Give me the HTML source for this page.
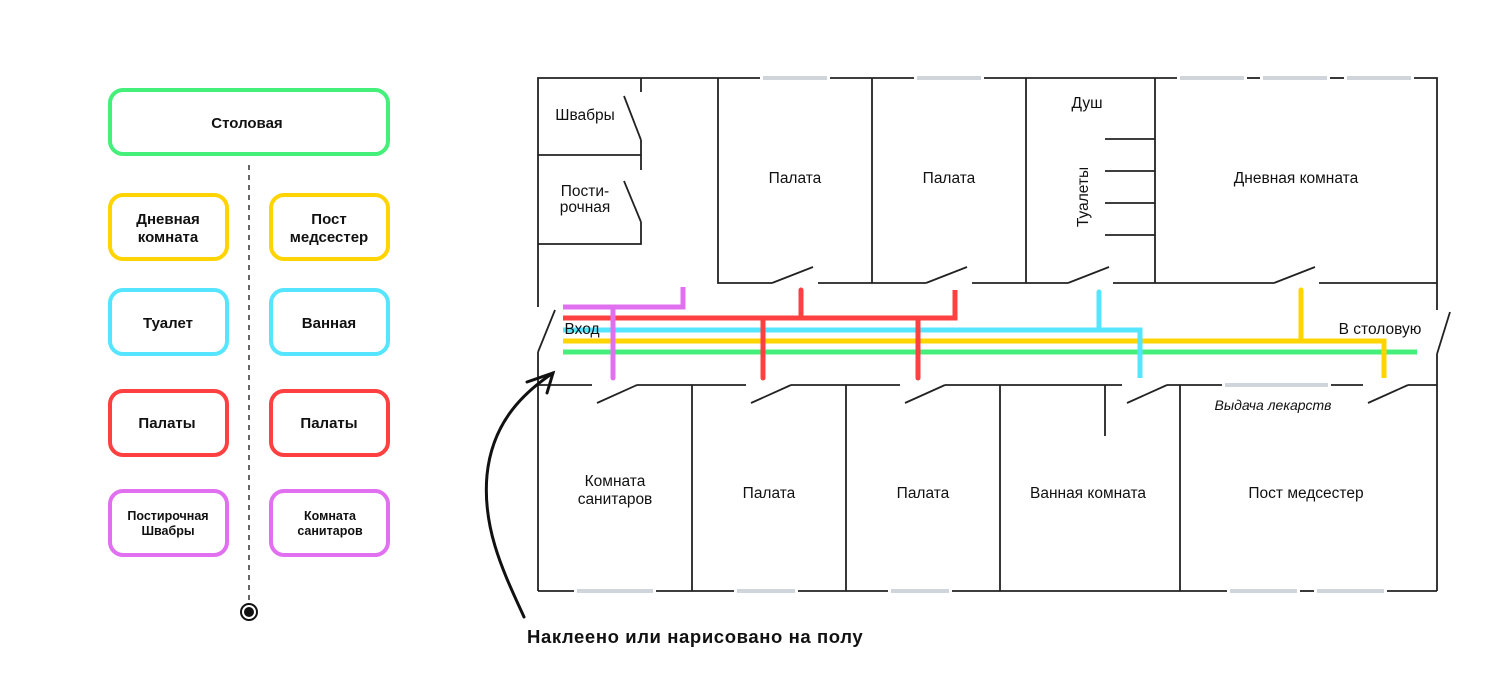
<!DOCTYPE html>
<html><head><meta charset="utf-8"><style>
html,body{margin:0;padding:0;background:#fff;}
svg{display:block;}
.lg{font-family:"Liberation Sans",sans-serif;font-weight:bold;font-size:15px;fill:#111;text-anchor:middle;}
.pl{font-family:"Liberation Sans",sans-serif;font-size:15.5px;fill:#111;text-anchor:middle;}
</style></head><body>
<svg width="1500" height="677" viewBox="0 0 1500 677" xmlns="http://www.w3.org/2000/svg">
<!-- Legend -->
<g fill="none" stroke-width="4">
<rect x="110" y="90" width="278" height="64" rx="13" stroke="#44f07a"/>
<rect x="110" y="195" width="117" height="64" rx="13" stroke="#ffd400"/>
<rect x="271" y="195" width="117" height="64" rx="13" stroke="#ffd400"/>
<rect x="110" y="290" width="117" height="64" rx="13" stroke="#55e5ff"/>
<rect x="271" y="290" width="117" height="64" rx="13" stroke="#55e5ff"/>
<rect x="110" y="391" width="117" height="64" rx="13" stroke="#ff4040"/>
<rect x="271" y="391" width="117" height="64" rx="13" stroke="#ff4040"/>
<rect x="110" y="491" width="117" height="64" rx="13" stroke="#e070f0"/>
<rect x="271" y="491" width="117" height="64" rx="13" stroke="#e070f0"/>
</g>
<line x1="249" y1="165" x2="249" y2="600" stroke="#666" stroke-width="2" stroke-dasharray="5,5"/>
<circle cx="249" cy="612" r="8" fill="none" stroke="#111" stroke-width="2"/>
<circle cx="249" cy="612" r="5" fill="#111"/>
<text class="lg" x="247" y="128">Столовая</text>
<text class="lg" x="168" y="224">Дневная</text><text class="lg" x="168" y="242">комната</text>
<text class="lg" x="329" y="224">Пост</text><text class="lg" x="329" y="242">медсестер</text>
<text class="lg" x="168" y="328">Туалет</text>
<text class="lg" x="329" y="328">Ванная</text>
<text class="lg" x="167" y="428">Палаты</text>
<text class="lg" x="329" y="428">Палаты</text>
<text class="lg" x="168" y="520" style="font-size:12.5px">Постирочная</text><text class="lg" x="168" y="535" style="font-size:12.5px">Швабры</text>
<text class="lg" x="330" y="520" style="font-size:12.5px">Комната</text><text class="lg" x="330" y="535" style="font-size:12.5px">санитаров</text>

<!-- Windows -->
<g stroke="#d0d5db" stroke-width="4">
<line x1="763" y1="78" x2="827" y2="78"/><line x1="917" y1="78" x2="981" y2="78"/>
<line x1="1180" y1="78" x2="1244" y2="78"/><line x1="1263" y1="78" x2="1327" y2="78"/><line x1="1347" y1="78" x2="1411" y2="78"/>
<line x1="577" y1="591" x2="653" y2="591"/><line x1="737" y1="591" x2="795" y2="591"/><line x1="891" y1="591" x2="949" y2="591"/>
<line x1="1230" y1="591" x2="1297" y2="591"/><line x1="1317" y1="591" x2="1384" y2="591"/>
<line x1="1225" y1="385" x2="1328" y2="385"/>
</g>
<!-- Walls -->
<g stroke="#222" stroke-width="1.8" fill="none">
<polyline points="538,307 538,78 760,78"/><line x1="830" y1="78" x2="914" y2="78"/><line x1="984" y1="78" x2="1177" y2="78"/>
<line x1="1247" y1="78" x2="1260" y2="78"/><line x1="1330" y1="78" x2="1344" y2="78"/><polyline points="1414,78 1437,78 1437,310"/>
<line x1="538" y1="155" x2="641" y2="155"/><polyline points="538,244 641,244 641,222"/>
<line x1="641" y1="78" x2="641" y2="92"/><line x1="641" y1="140" x2="641" y2="170"/>
<line x1="624" y1="96" x2="641" y2="140"/><line x1="624" y1="181" x2="641" y2="222"/>
<polyline points="718,78 718,283 772,283"/><line x1="813" y1="267" x2="772" y2="283"/>
<polyline points="818,283 872,283 926,283"/><line x1="872" y1="78" x2="872" y2="283"/><line x1="967" y1="267" x2="926" y2="283"/>
<polyline points="972,283 1026,283 1068,283"/><line x1="1026" y1="78" x2="1026" y2="283"/><line x1="1109" y1="267" x2="1068" y2="283"/>
<polyline points="1113,283 1155,283 1274,283"/><line x1="1155" y1="78" x2="1155" y2="283"/><line x1="1315" y1="267" x2="1274" y2="283"/>
<line x1="1319" y1="283" x2="1437" y2="283"/>
<line x1="1105" y1="139" x2="1155" y2="139"/><line x1="1105" y1="171" x2="1155" y2="171"/><line x1="1105" y1="203" x2="1155" y2="203"/><line x1="1105" y1="235" x2="1155" y2="235"/>
<line x1="555" y1="310" x2="538" y2="352"/><line x1="538" y1="352" x2="538" y2="591"/>
<line x1="1450" y1="312" x2="1437" y2="354"/><line x1="1437" y1="354" x2="1437" y2="591"/>
<line x1="538" y1="385" x2="592" y2="385"/><line x1="597" y1="403" x2="637" y2="385"/>
<line x1="637" y1="385" x2="746" y2="385"/><line x1="751" y1="403" x2="791" y2="385"/>
<line x1="791" y1="385" x2="900" y2="385"/><line x1="905" y1="403" x2="945" y2="385"/>
<line x1="945" y1="385" x2="1122" y2="385"/><line x1="1127" y1="403" x2="1167" y2="385"/>
<line x1="1167" y1="385" x2="1222" y2="385"/><line x1="1331" y1="385" x2="1363" y2="385"/>
<line x1="1368" y1="403" x2="1408" y2="385"/><line x1="1408" y1="385" x2="1437" y2="385"/>
<line x1="692" y1="385" x2="692" y2="591"/><line x1="846" y1="385" x2="846" y2="591"/>
<line x1="1000" y1="385" x2="1000" y2="591"/><line x1="1180" y1="385" x2="1180" y2="591"/>
<line x1="1105" y1="385" x2="1105" y2="436"/>
<line x1="538" y1="591" x2="574" y2="591"/><line x1="656" y1="591" x2="734" y2="591"/><line x1="798" y1="591" x2="888" y2="591"/>
<line x1="952" y1="591" x2="1227" y2="591"/><line x1="1300" y1="591" x2="1314" y2="591"/><line x1="1387" y1="591" x2="1437" y2="591"/>
</g>
<!-- Colored lines -->
<g fill="none" stroke-width="5" stroke-linecap="round" stroke-linejoin="miter">
<polyline stroke="#44f07a" points="563,352 1417,352" stroke-linecap="butt"/>
<polyline stroke="#ffd400" points="563,341 1384,341 1384,378" stroke-linecap="butt"/>
<line stroke="#ffd400" x1="1301" y1="290" x2="1301" y2="341"/>
<polyline stroke="#55e5ff" points="563,330 1140,330 1140,378" stroke-linecap="butt"/>
<line stroke="#55e5ff" x1="1099" y1="292" x2="1099" y2="330"/>
<polyline stroke="#ff4040" points="563,318 955,318 955,290" stroke-linecap="butt"/>
<line stroke="#ff4040" x1="801" y1="290" x2="801" y2="318"/>
<line stroke="#ff4040" x1="763" y1="318" x2="763" y2="378"/>
<line stroke="#ff4040" x1="918" y1="318" x2="918" y2="378"/>
<polyline stroke="#e070f0" points="563,307 683,307 683,287" stroke-linecap="butt"/>
<line stroke="#e070f0" x1="613" y1="307" x2="613" y2="378"/>
</g>
<!-- Plan labels -->
<text class="pl" x="585" y="120">Швабры</text>
<text class="pl" x="585" y="196">Пости-</text><text class="pl" x="585" y="212">рочная</text>
<text class="pl" x="795" y="183">Палата</text>
<text class="pl" x="949" y="183">Палата</text>
<text class="pl" x="1087" y="108">Душ</text>
<text class="pl" transform="translate(1088,197) rotate(-90)">Туалеты</text>
<text class="pl" x="1296" y="183">Дневная комната</text>
<text class="pl" x="582" y="334">Вход</text>
<text class="pl" x="1380" y="334">В столовую</text>
<text class="pl" x="1273" y="410" font-style="italic" style="font-size:14px">Выдача лекарств</text>
<text class="pl" x="615" y="486">Комната</text><text class="pl" x="615" y="504">санитаров</text>
<text class="pl" x="769" y="498">Палата</text>
<text class="pl" x="923" y="498">Палата</text>
<text class="pl" x="1088" y="498">Ванная комната</text>
<text class="pl" x="1306" y="498">Пост медсестер</text>
<!-- arrow -->
<g fill="none" stroke="#111" stroke-width="3" stroke-linecap="round">
<path d="M524,617 C505,575 482,530 487,475 C492,425 520,395 553,373"/>
<path d="M527,382 L553,373 L547,393"/>
</g>
<text x="527" y="643" style="font-family:'Liberation Sans',sans-serif;font-weight:bold;font-size:18.5px;letter-spacing:0.6px;fill:#111">Наклеено или нарисовано на полу</text>
</svg>
</body></html>
